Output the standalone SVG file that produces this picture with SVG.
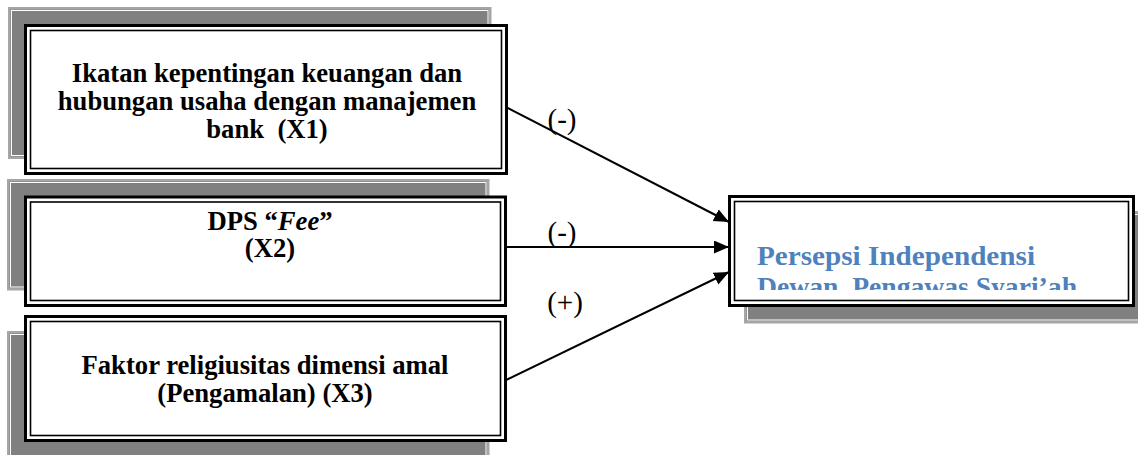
<svg xmlns="http://www.w3.org/2000/svg" width="1138" height="455" viewBox="0 0 1138 455">
<style>
.sh{fill:#808080;stroke:#a6a6a6;stroke-width:2.5}
.shi{fill:none;stroke:#ffffff;stroke-width:1}
.fo{fill:#ffffff;stroke:#000000;stroke-width:3}
.fi{fill:none;stroke:#000000;stroke-width:1.6}
.t{font-family:"Liberation Serif","Times New Roman",serif;font-weight:bold;font-size:26.67px;fill:#000000;text-anchor:middle}
.lbl{font-family:"Liberation Serif","Times New Roman",serif;font-size:29px;fill:#000000;text-anchor:middle}
.tb{font-family:"Liberation Serif",Cambria,serif;font-weight:bold;font-size:26.67px;fill:#4F81BD}
.c{fill:none;stroke:#000000;stroke-width:2}
</style>
<defs>
<marker id="ah" markerUnits="userSpaceOnUse" markerWidth="16" markerHeight="14" refX="15" refY="6.5" orient="auto">
<path d="M0,0 L15,6.5 L0,13 Z" fill="#000000"/>
</marker>
<clipPath id="clipY"><rect x="735" y="201" width="393" height="89"/></clipPath>
</defs>

<g id="node-x1">
<rect class="sh" x="9.25" y="8.25" width="481" height="149.5"/>
<rect class="shi" x="11.5" y="10.5" width="476.5" height="145"/>
<rect class="fo" x="25.5" y="25.5" width="481" height="148"/>
<rect class="fi" x="30.5" y="30.5" width="471" height="138"/>
<text class="t" x="267" y="82">Ikatan kepentingan keuangan dan</text>
<text class="t" x="267" y="110">hubungan usaha dengan manajemen</text>
<text class="t" x="267" y="138" xml:space="preserve">bank  (X1)</text>
</g>

<g id="node-x2">
<rect class="sh" x="8.25" y="180.25" width="480" height="109"/>
<rect class="shi" x="10.5" y="182.5" width="475.5" height="104.5"/>
<rect class="fo" x="25.5" y="197" width="480" height="108.5"/>
<rect class="fi" x="30.5" y="202" width="470" height="98.5"/>
<text class="t" x="270" y="230">DPS “<tspan font-style="italic">Fee</tspan>”</text>
<text class="t" x="270" y="257">(X2)</text>
</g>

<g id="node-x3">
<rect class="sh" x="8.25" y="332.25" width="480" height="130"/>
<rect class="shi" x="10.5" y="334.5" width="475.5" height="130"/>
<rect class="fo" x="25.5" y="316.5" width="480" height="124"/>
<rect class="fi" x="30.5" y="321.5" width="470" height="114"/>
<text class="t" x="265" y="374">Faktor religiusitas dimensi amal</text>
<text class="t" x="265" y="402">(Pengamalan) (X3)</text>
</g>

<g id="node-y">
<rect class="sh" x="745.25" y="212.25" width="400" height="110"/>
<rect class="shi" x="747.5" y="214.5" width="400" height="105.5"/>
<rect class="fo" x="729.5" y="196.5" width="404" height="109"/>
<rect class="fi" x="734.5" y="201.5" width="394" height="99"/>
<g clip-path="url(#clipY)">
<text class="tb" x="757" y="265" textLength="278" lengthAdjust="spacingAndGlyphs">Persepsi Independensi</text>
<text class="tb" x="757" y="296" xml:space="preserve" textLength="320" lengthAdjust="spacingAndGlyphs">Dewan  Pengawas Syari’ah</text>
</g>
</g>

<g id="connectors">
<line class="c" x1="506" y1="107" x2="729" y2="222" marker-end="url(#ah)"/>
<line class="c" x1="506" y1="247" x2="729" y2="247" marker-end="url(#ah)"/>
<line class="c" x1="506" y1="380" x2="729" y2="272" marker-end="url(#ah)"/>
<text class="lbl" x="562" y="129">(-)</text>
<text class="lbl" x="562" y="242">(-)</text>
<text class="lbl" x="565" y="312">(+)</text>
</g>
</svg>
